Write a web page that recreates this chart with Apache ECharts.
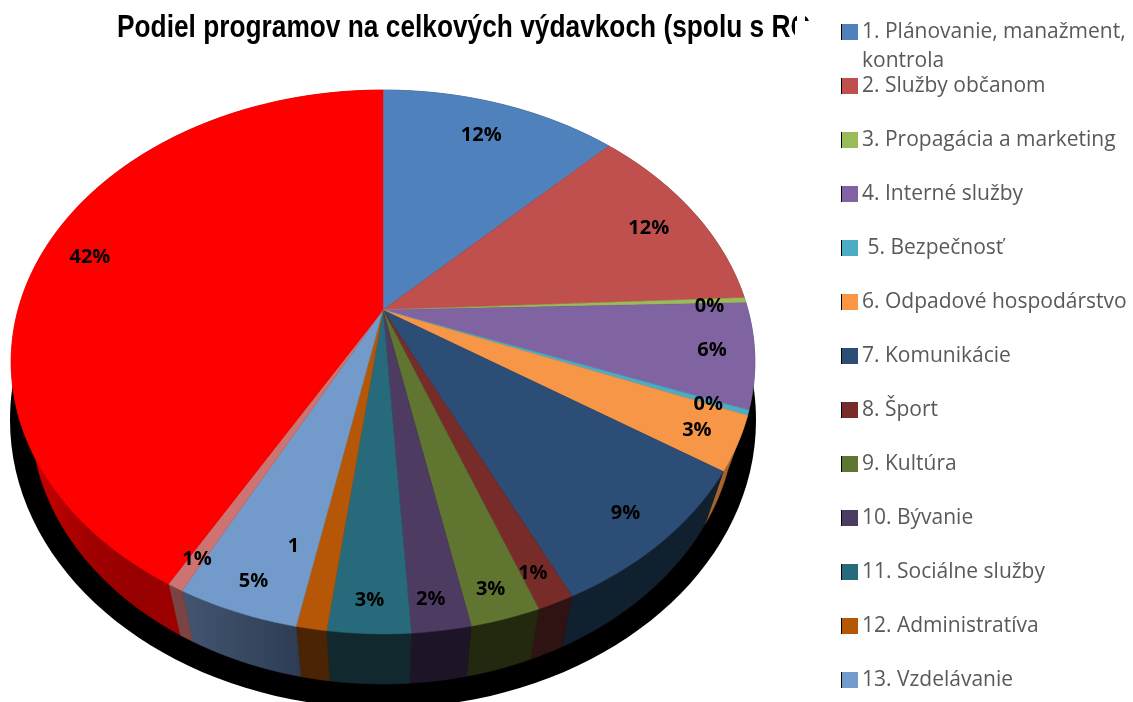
<!DOCTYPE html>
<html>
<head>
<meta charset="utf-8">
<style>
  html, body { margin: 0; padding: 0; background: #fff; }
  #chart { width: 1133px; height: 702px; }
</style>
<script src="https://cdn.jsdelivr.net/npm/echarts@6/dist/echarts.min.js"></script>
</head>
<body>
<div id="chart"></div>
<script>
// share of each programme as drawn, in percent
var categories = [
  '1. Plánovanie, manažment,\nkontrola',
  '2. Služby občanom',
  '3. Propagácia a marketing',
  '4. Interné služby',
  ' 5. Bezpečnosť',
  '6. Odpadové hospodárstvo',
  '7. Komunikácie',
  '8. Šport',
  '9. Kultúra',
  '10. Bývanie',
  '11. Sociálne služby',
  '12. Administratíva',
  '13. Vzdelávanie',
  '14.',
  '15.'
];
var values = [12.4, 11.85, 0.3, 6.25, 0.3, 3.2, 8.65, 1.35, 2.55, 2.15, 3.0, 1.1, 4.45, 0.6, 41.85];
var labels = ['12%', '12%', '0%', '6%', '0%', '3%', '9%', '1%', '3%', '2%', '3%', '1', '5%', '1%', '42%'];

var faceColors = ['#4f81bd', '#c0504d', '#9bbb59', '#8064a2', '#4bacc6', '#f79646', '#2c4d75',
  '#772c2a', '#5f7530', '#4d3b62', '#276a7c', '#b65708', '#729aca', '#cd7371', '#ff0000'];
var wallColors = ['#27405e', '#602826', '#4d5d2c', '#403251', '#255663', '#a8642c', '#10202e',
  '#2e1312', '#23290f', '#1e1428', '#12282f', '#4a2405',
  new echarts.graphic.LinearGradient(180, 0, 300, 0, [{ offset: 0, color: '#435570' }, { offset: 1, color: '#2e3d55' }], true),
  '#7a4444',
  new echarts.graphic.LinearGradient(30, 0, 180, 0, [{ offset: 0, color: '#cc0000' }, { offset: 0.4, color: '#a00000' }, { offset: 0.73, color: '#960000' }, { offset: 1, color: '#a00000' }], true)];

// label shift in px from the default spot, as excel moved them around
var labelNudge = [[-6, 8], [-8, 6], [6, 5], [0, 0], [2, 3], [0, 2], [-5, -1], [-3, 4], [-1, 6], [-4, 6], [-1, 4], [-26, -46], [0, 4], [-2, 4], [5, 3]];

// perspective of the tilted disc: top rim and bottom rim
var topRim = { x: 383, y: 310, a: 365, b: 262 };
var bottomRim = { x: 383, y: 365, a: 345.5, b: 258 };
var persp = 0.1912;

function rimPoint(rim, deg) {
  var t = deg * Math.PI / 180;
  var d = 1 + persp * Math.cos(t);
  return [rim.x + rim.a * Math.sin(t) / d, rim.y - rim.b * Math.cos(t) / d];
}

function arc(rim, from, to) {
  var pts = [];
  var n = Math.max(2, Math.ceil((to - from) / 1.5));
  for (var i = 0; i <= n; i++) pts.push(rimPoint(rim, from + (to - from) * i / n));
  return pts;
}

var total = values.reduce(function (s, v) { return s + v; }, 0);
var starts = [];
values.reduce(function (s, v, i) { starts[i] = s; return s + v; }, 0);

function sliceSeries(name, i) {
  return {
    type: 'custom',
    name: name,
    coordinateSystem: 'none',
    itemStyle: { color: faceColors[i] },
    silent: true,
    z: 3,
    data: [[values[i]]],
    renderItem: function (params, api) {
      var from = starts[i] / total * 360;
      var to = from + api.value(0) / total * 360;
      var topArc = arc(topRim, from, to);
      var wall = topArc.concat(arc(bottomRim, from, to).reverse());
      return {
        type: 'group',
        children: [{
          type: 'polygon',
          z2: 1,
          shape: { points: wall },
          style: { fill: wallColors[i], stroke: wallColors[i], lineWidth: 0.5 }
        }, {
          type: 'polygon',
          z2: 2,
          shape: { points: [[topRim.x, topRim.y]].concat(topArc) },
          style: { fill: faceColors[i], stroke: faceColors[i], lineWidth: 0.5 }
        }]
      };
    }
  };
}

var series = categories.map(sliceSeries);

// labels are one more series so they stay above all faces
series.push({
  type: 'custom',
  name: 'labels',
  coordinateSystem: 'none',
  silent: true,
  z: 5,
  data: labels.map(function (l, i) { return [values[i], l]; }),
  renderItem: function (params, api) {
    var i = params.dataIndex;
    var mid = (starts[i] + values[i] / 2) / total * 360;
    var edge = rimPoint(topRim, mid);
    return {
      type: 'text',
      x: topRim.x + (edge[0] - topRim.x) * 0.885 + labelNudge[i][0],
      y: topRim.y + (edge[1] - topRim.y) * 0.885 + labelNudge[i][1],
      style: {
        text: labels[i],
        fill: '#000',
        font: 'bold 20px "Open Sans"',
        align: 'center',
        verticalAlign: 'middle'
      }
    };
  }
});

var chart = echarts.init(document.getElementById('chart'));
chart.setOption({
  backgroundColor: '#fff',
  animation: false,
  legend: {
    orient: 'vertical',
    left: 842,
    top: 20,
    padding: 0,
    itemWidth: 16,
    itemHeight: 16,
    itemGap: 30,
    icon: 'rect',
    selectedMode: false,
    data: categories.slice(0, 13),
    formatter: function (name) { return name.split('\n')[0]; },
    itemStyle: { shadowColor: '#000', shadowOffsetX: -1, shadowOffsetY: 0, shadowBlur: 0 },
    textStyle: { fontFamily: 'Open Sans', fontSize: 21, color: '#595959', lineHeight: 24, padding: [0, 0, 0, -1] }
  },
  graphic: [
    { type: 'ellipse', z: 1, shape: { cx: 383, cy: 420, rx: 373, ry: 288 }, style: { fill: '#000' } },
    // the title runs under a white patch in the source, so its last letter is cut
    { type: 'text', z: 1, x: 117, y: 13, scaleX: 0.848, style: { text: 'Podiel programov na celkových výdavkoch (spolu s RO', fill: '#000', font: 'bold 31px "Liberation Sans"' } },
    { type: 'rect', z: 2, shape: { x: 795, y: 21, width: 46, height: 30 }, style: { fill: '#fff' } },
    { type: 'rect', z: 2, shape: { x: 797, y: 8, width: 8, height: 14 }, style: { fill: '#fff' } },
    { type: 'text', z: 1, x: 862, y: 51, style: { text: categories[0].split('\n')[1], fill: '#595959', font: '21px "Open Sans"' } }
  ],
  series: series
});
</script>
</body>
</html>
